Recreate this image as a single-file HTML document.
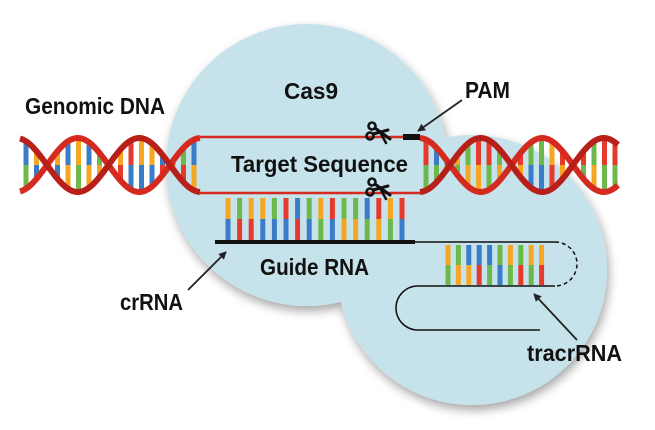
<!DOCTYPE html>
<html><head><meta charset="utf-8"><style>
html,body{margin:0;padding:0;background:#fff;width:655px;height:430px;overflow:hidden}
text{font-family:"Liberation Sans Narrow","Liberation Sans",sans-serif;font-weight:bold;fill:#111}
</style></head><body>
<svg id="s" width="655" height="430" viewBox="0 0 655 430" xmlns="http://www.w3.org/2000/svg">
<defs>
<filter id="sh" x="-20%" y="-20%" width="140%" height="140%"><feGaussianBlur in="SourceAlpha" stdDeviation="5"/><feOffset dx="2" dy="5"/><feComponentTransfer><feFuncA type="linear" slope="0.35"/></feComponentTransfer><feMerge><feMergeNode/><feMergeNode in="SourceGraphic"/></feMerge></filter>
<marker id="ah" markerWidth="8" markerHeight="8" refX="7" refY="4" orient="auto" markerUnits="userSpaceOnUse"><path d="M0,0 L8,4 L0,8 z" fill="#222"/></marker>
<g id="sc">
<circle cx="-6" cy="-7" r="3.5" fill="none" stroke="#111" stroke-width="2.6"/>
<circle cx="-8" cy="3" r="3.5" fill="none" stroke="#111" stroke-width="2.6"/>
<path d="M-3,-5 L12,6 M-5,1 L10,-3" stroke="#111" stroke-width="3" stroke-linecap="round"/>
<path d="M2,-1 L8,10" stroke="#111" stroke-width="2.5" stroke-linecap="round"/>
</g>
</defs>
<g filter="url(#sh)" fill="#c6e3eb">
<circle cx="307" cy="165" r="141"/>
<circle cx="472" cy="270" r="135"/>
</g>
<g id="bases"></g>
<g id="strands"></g>
<line x1="200" y1="137" x2="420" y2="137" stroke="#d42a20" stroke-width="2.5"/>
<line x1="200" y1="193" x2="420" y2="193" stroke="#d42a20" stroke-width="2.5"/>
<rect x="403" y="134" width="17" height="6" fill="#111"/>
<line x1="215" y1="242" x2="415" y2="242" stroke="#111" stroke-width="4"/>
<path d="M415,242 L555,242" stroke="#111" stroke-width="1.5" fill="none"/>
<path d="M555,242 A22,22 0 0 1 555,286" stroke="#111" stroke-width="1.5" fill="none" stroke-dasharray="4,3"/>
<path d="M555,286 L418,286 A22,22 0 0 0 418,330 L540,330" stroke="#111" stroke-width="1.5" fill="none"/>
<line x1="462" y1="100" x2="418" y2="131" stroke="#222" stroke-width="1.8" marker-end="url(#ah)"/>
<line x1="188" y1="290" x2="226" y2="252" stroke="#222" stroke-width="1.8" marker-end="url(#ah)"/>
<line x1="577" y1="340" x2="534" y2="294" stroke="#222" stroke-width="1.8" marker-end="url(#ah)"/>
<use href="#sc" x="378" y="133"/>
<use href="#sc" x="378" y="189"/>
<text x="25" y="114" font-size="23" textLength="140" lengthAdjust="spacingAndGlyphs">Genomic DNA</text>
<text x="284" y="99" font-size="23" textLength="54" lengthAdjust="spacingAndGlyphs">Cas9</text>
<text x="465" y="98" font-size="23" textLength="45" lengthAdjust="spacingAndGlyphs">PAM</text>
<text x="231" y="172" font-size="23" textLength="177" lengthAdjust="spacingAndGlyphs">Target Sequence</text>
<text x="260" y="275" font-size="23" textLength="109" lengthAdjust="spacingAndGlyphs">Guide RNA</text>
<text x="120" y="310" font-size="23" textLength="63" lengthAdjust="spacingAndGlyphs">crRNA</text>
<text x="527" y="361" font-size="23" textLength="95" lengthAdjust="spacingAndGlyphs">tracrRNA</text>
</svg>
<script>
const NS="http://www.w3.org/2000/svg";
const B=document.getElementById('bases'),S=document.getElementById('strands');
const C=['#e63a2e','#3a7cc8','#6cb84a','#f5a623'];
function ln(g,x1,y1,x2,y2,c,w){const l=document.createElementNS(NS,'line');l.setAttribute('x1',x1);l.setAttribute('y1',y1);l.setAttribute('x2',x2);l.setAttribute('y2',y2);l.setAttribute('stroke',c);l.setAttribute('stroke-width',w);g.appendChild(l);}
let seed=3;function rnd(){seed=(seed*9301+49297)%233280;return seed/233280;}
function pair(x,y1,y2,w){const a=Math.floor(rnd()*4);const b=(a+1+Math.floor(rnd()*3))%4;const m=(y1+y2)/2;ln(B,x,y1,x,m,C[a],w);ln(B,x,m,x,y2,C[b],w);}
function helix(x0,x1,f){
  for(let x=x0+6;x<x1-2;x+=10.5){const s=f(x);pair(x,165-27*Math.abs(s),165+27*Math.abs(s),5);}
  for(const sg of [1,-1]){let d='';for(let x=x0;x<=x1;x+=1){d+=(x==x0?'M':'L')+x+','+(165+sg*27*f(x)).toFixed(1);}
    const p=document.createElementNS(NS,'path');p.setAttribute('d',d);p.setAttribute('fill','none');p.setAttribute('stroke',sg>0?'#d42a20':'#b81f18');p.setAttribute('stroke-width','6');S.appendChild(p);}
}
const T=123;
helix(20,200,x=>-Math.sin(2*Math.PI*(x-170)/T));
helix(420,618,x=>Math.sin(2*Math.PI*(x-450)/T));
for(let i=0;i<16;i++){pair(228+i*11.6,198,240,5);}
for(let i=0;i<10;i++){pair(448+i*10.4,245,285,5);}
</script>
</body></html>
